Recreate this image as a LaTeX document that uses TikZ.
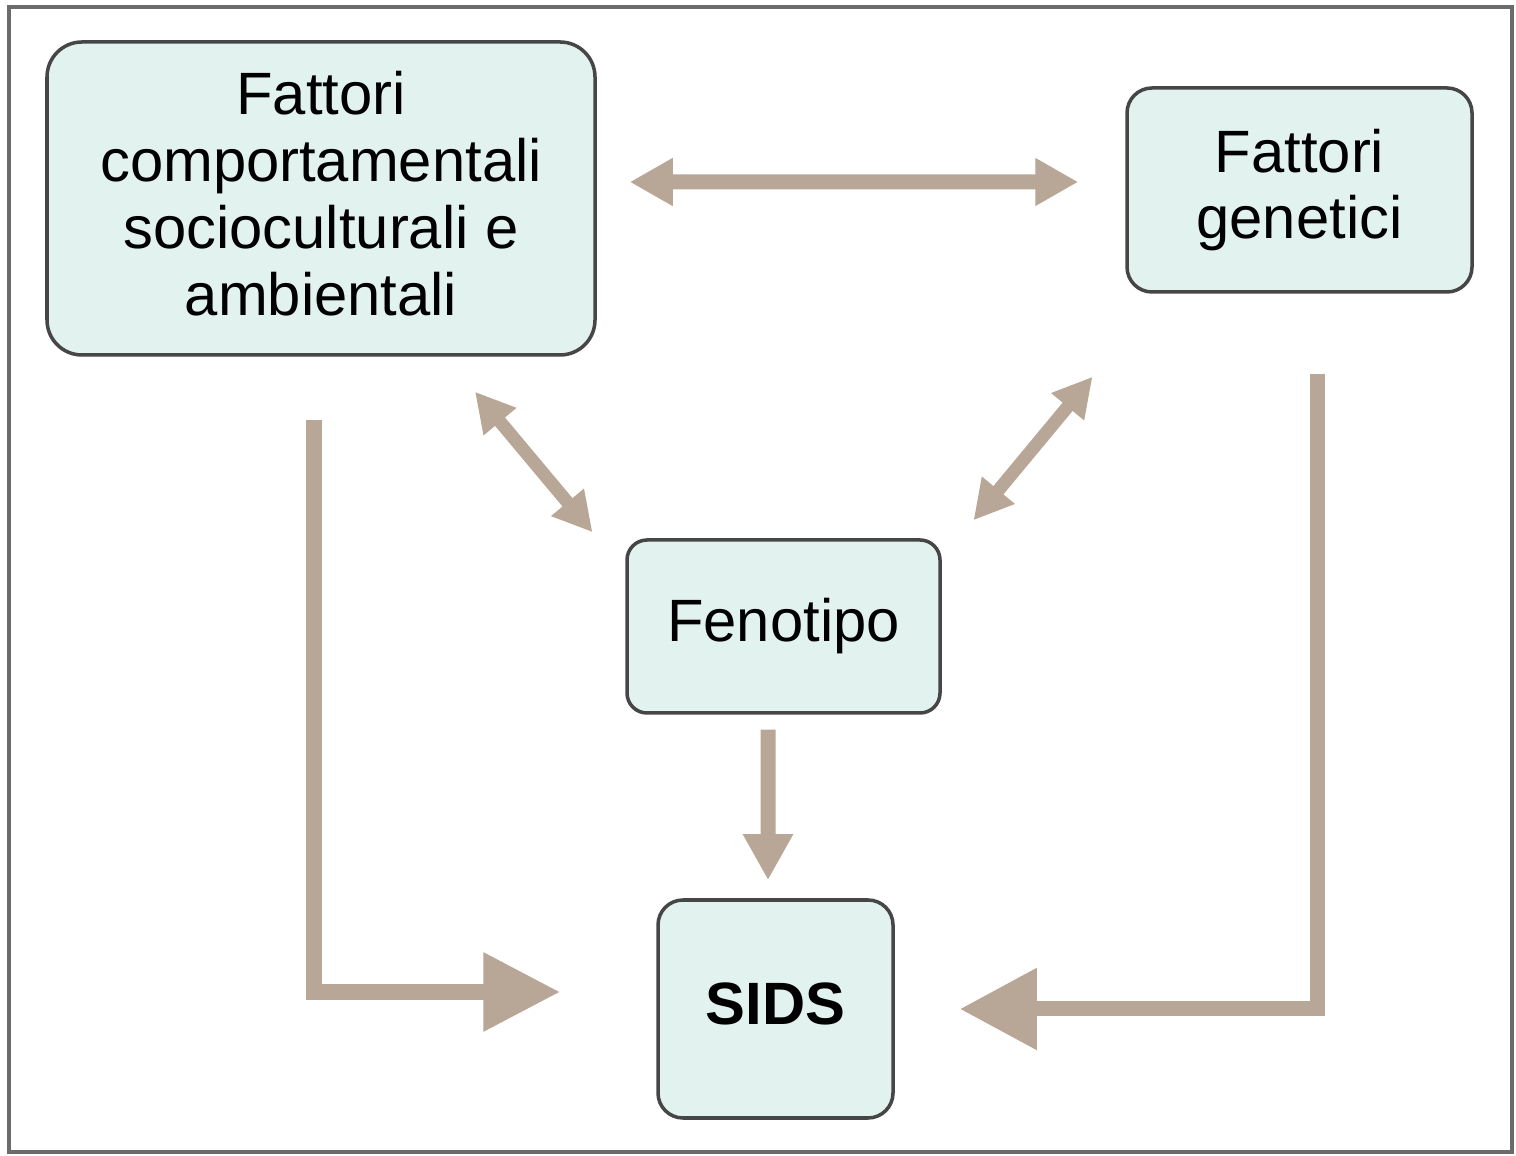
\documentclass[tikz,border=0pt]{standalone}
\usepackage{fontspec}
\setmainfont{Liberation Sans}
\usetikzlibrary{arrows.meta,calc}

\definecolor{boxfill}{RGB}{226,242,239}
\definecolor{arrowtan}{RGB}{184,166,150}
\definecolor{boxline}{RGB}{70,70,70}

\begin{document}
\begin{tikzpicture}[factor/.style={draw=boxline,line width=1pt,fill=boxfill,align=center,inner sep=0pt,font=\fontsize{17}{19}\selectfont},
  link/.style={draw=arrowtan,line width=1.5mm}]

\useasboundingbox (0,0) rectangle (15.16,11.55);
\draw[boxline!80,line width=1pt] (0.09,0.03) rectangle (15.12,11.48);

% Boxes
\node (ambiente) at (3.21,9.565) [factor,rounded corners=3.5mm,minimum width=54.8mm,minimum height=31.3mm]
{Fattori\\comportamentali\\socioculturali e\\ambientali\vspace{1mm}};
\node (genetica) at (12.995,9.65) [factor,rounded corners=2.5mm,minimum width=34.5mm,minimum height=20.4mm]
{Fattori\\genetici};
\node (fenotipo) at (7.835,5.285) [factor,rounded corners=2mm,minimum width=31.3mm,minimum height=17.3mm]
{Fenotipo};
\node (sids) at (7.755,1.46) [factor,rounded corners=2.5mm,minimum width=23.5mm,minimum height=21.8mm]
{\raisebox{1mm}{\bfseries SIDS}};

% Arrows between factors
\coordinate (ha) at ($(ambiente.east)+(.33,.165)$);
\coordinate (hb) at ($(genetica.west)+(-.47,.08)$);
\draw[link,{Triangle[length=4.3mm,width=4.5mm]}-{Triangle[length=4.3mm,width=4.5mm]}] (ha) -- (hb);

\coordinate (la) at ($(ambiente.south)+(1.54,-.35)$);
\coordinate (lb) at ($(fenotipo.north)+(-1.91,.06)$);
\draw[link,line width=1.3mm,{Triangle[length=3.9mm,width=4mm]}-{Triangle[length=3.9mm,width=4mm]}] (la) -- (lb);

\coordinate (ra) at ($(genetica.south)+(-2.07,-.83)$);
\coordinate (rb) at ($(fenotipo.north)+(1.90,.18)$);
\draw[link,line width=1.3mm,{Triangle[length=3.9mm,width=4mm]}-{Triangle[length=3.9mm,width=4mm]}] (ra) -- (rb);

% Arrows to SIDS
\draw[link,-{Triangle[length=4.6mm,width=4.7mm]}] ($(fenotipo.south)+(-.155,-.15)$) -- ($(sids.north)+(-.075,.18)$);

\coordinate (lc) at ($(ambiente.south)+(-.07,-.63)$);
\draw[link,line width=1.6mm,-{Triangle[length=7.7mm,width=7.5mm]}] (lc) |- ($(sids.west)+(-.96,.17)$);

\coordinate (rc) at ($(genetica.south)+(.175,-.80)$);
\draw[link,-{Triangle[length=7.7mm,width=7.8mm]}] (rc) |- ($(sids.east)+(.65,0)$);

\end{tikzpicture}
\end{document}
